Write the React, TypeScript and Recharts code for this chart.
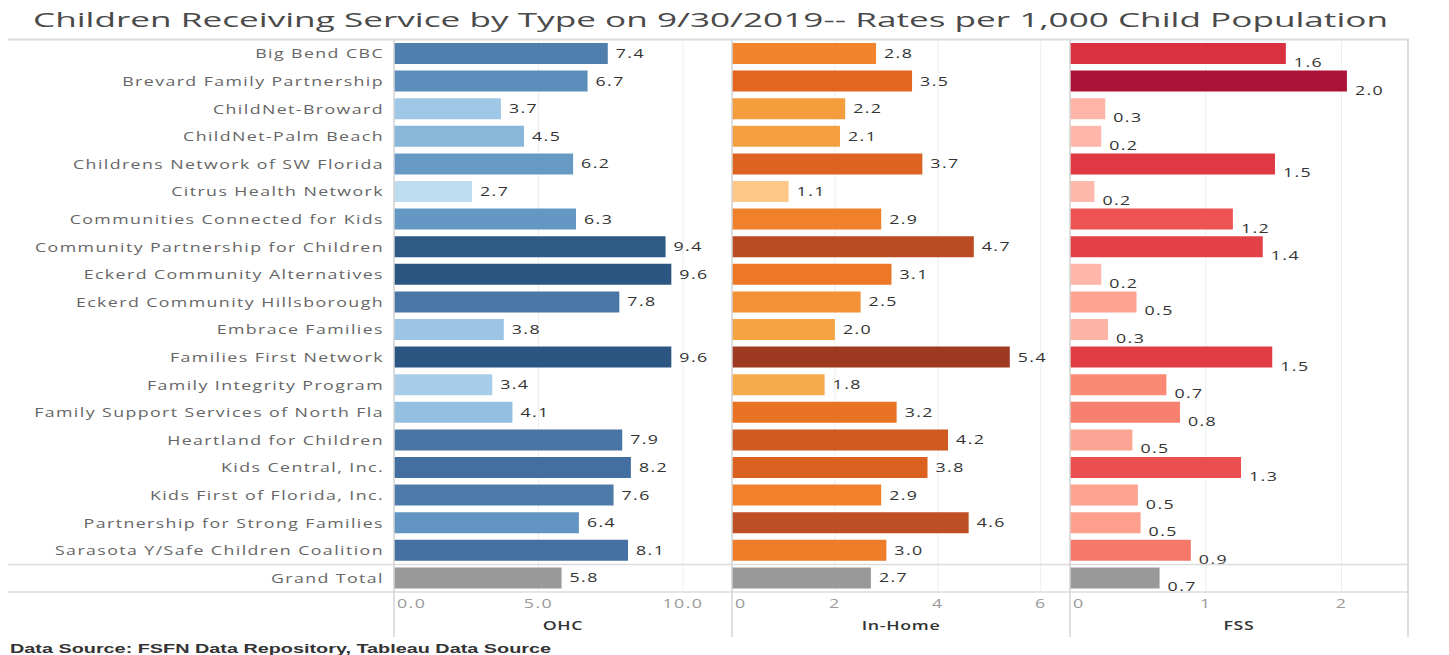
import React from 'react';
import { BarChart, Bar, XAxis, YAxis, CartesianGrid, Cell, LabelList } from 'recharts';

const categories = [
  'Big Bend CBC',
  'Brevard Family Partnership',
  'ChildNet-Broward',
  'ChildNet-Palm Beach',
  'Childrens Network of SW Florida',
  'Citrus Health Network',
  'Communities Connected for Kids',
  'Community Partnership for Children',
  'Eckerd Community Alternatives',
  'Eckerd Community Hillsborough',
  'Embrace Families',
  'Families First Network',
  'Family Integrity Program',
  'Family Support Services of North Fla',
  'Heartland for Children',
  'Kids Central, Inc.',
  'Kids First of Florida, Inc.',
  'Partnership for Strong Families',
  'Sarasota Y/Safe Children Coalition',
  'Grand Total',
];

const ohcRates = [7.4, 6.7, 3.7, 4.5, 6.2, 2.7, 6.3, 9.4, 9.6, 7.8, 3.8, 9.6, 3.4, 4.1, 7.9, 8.2, 7.6, 6.4, 8.1, 5.8];
const inHomeRates = [2.8, 3.5, 2.2, 2.1, 3.7, 1.1, 2.9, 4.7, 3.1, 2.5, 2.0, 5.4, 1.8, 3.2, 4.2, 3.8, 2.9, 4.6, 3.0, 2.7];
const fssRates = [1.59, 2.04, 0.26, 0.23, 1.51, 0.18, 1.2, 1.42, 0.23, 0.49, 0.28, 1.49, 0.71, 0.81, 0.46, 1.26, 0.5, 0.52, 0.89, 0.66];

const ohcTicks = [0, 5, 10];
const inHomeTicks = [0, 2, 4, 6];
const fssTicks = [0, 1, 2];

const blueStops: [number, string][] = [
  [2.7, '#bddcf0'], [3.8, '#9cc5e5'], [4.5, '#88b7da'], [6.3, '#6497c3'],
  [7.4, '#4f7fad'], [8.2, '#426f9f'], [9.6, '#2b5682'],
];
const orangeStops: [number, string][] = [
  [1.1, '#fdc788'], [1.8, '#f5aa4c'], [2.2, '#f49d3c'], [2.9, '#f0802b'],
  [3.5, '#e2661f'], [4.2, '#cf5a22'], [4.7, '#ba4b23'], [5.4, '#9d3a21'],
];
const redStops: [number, string][] = [
  [0.2, '#feb9ad'], [0.5, '#fca290'], [0.7, '#fb8b75'], [0.9, '#f6776a'],
  [1.2, '#ed5352'], [1.5, '#e03b44'], [1.6, '#d93040'], [2.04, '#ac1237'],
];
const TOTAL_COLOR = '#999999';

const hex = (c: string) => [1, 3, 5].map((i) => parseInt(c.slice(i, i + 2), 16));
const rampColor = (stops: [number, string][], v: number) => {
  if (v <= stops[0][0]) return stops[0][1];
  for (let i = 1; i < stops.length; i++) {
    if (v <= stops[i][0]) {
      const [a, ca] = stops[i - 1];
      const [b, cb] = stops[i];
      const t = (v - a) / (b - a);
      const A = hex(ca), B = hex(cb);
      return 'rgb(' + A.map((x, k) => Math.round(x + (B[k] - x) * t)).join(',') + ')';
    }
  }
  return stops[stops.length - 1][1];
};

const rows = categories.map((name, i) => ({
  name,
  ohc: ohcRates[i],
  inHome: inHomeRates[i],
  fss: fssRates[i],
}));

const FONT = '"Open Sans", sans-serif';
const SX = 1.42;
const TOP = 40;
const PLOT_H = 552;
const AXIS_H = 45;
const PANE_W = 338;

const StretchText = ({ x, y, anchor = 'start', size = 12.5, fill = '#333', weight = 400, spacing = 1, children }: any) => (
  <text
    transform={`translate(${x},${y}) scale(${SX},1)`}
    textAnchor={anchor}
    fontFamily={FONT}
    fontSize={size}
    fontWeight={weight}
    letterSpacing={spacing}
    fill={fill}
  >
    {children}
  </text>
);

const RowLabel = ({ y, payload }: any) => (
  <StretchText x={376} y={y + 4.5} anchor="end" fill="#666">
    {payload.value}
  </StretchText>
);

const makeTick = (fmt: (v: number) => string) => ({ x, y, payload }: any) => (
  <StretchText x={payload.value === 0 ? x + 3 : x} y={y + 14} anchor={payload.value === 0 ? 'start' : 'middle'} fill="#9a9a9a" size={12.5}>
    {fmt(payload.value)}
  </StretchText>
);

const makeTitle = (text: string) => (props: any) => {
  const vb = props.viewBox || {};
  return (
    <StretchText x={vb.x + vb.width / 2} y={vb.y + 38} anchor="middle" fill="#333" size={12.5} weight={600} spacing={0.5}>
      {text}
    </StretchText>
  );
};

const makeValueLabel = (dy: number) => (p: any) => (
  <StretchText x={p.x + p.width + 8} y={p.y + p.height / 2 + 4.5 + dy} fill="#333" size={12.5}>
    {Number(p.value).toFixed(1)}
  </StretchText>
);

const Pane = ({ dataKey, max, ticks, stops, fmt, title, labelDy, withLabels }: any) => (
  <BarChart
    width={withLabels ? 386 + PANE_W : PANE_W}
    height={PLOT_H + AXIS_H}
    data={rows}
    layout="vertical"
    margin={{ top: 0, right: 0, bottom: 0, left: 0 }}
    barSize={21}
  >
    <CartesianGrid horizontal={false} stroke="#eeeeee" />
    <XAxis
      type="number"
      domain={[0, max]}
      ticks={ticks}
      interval={0}
      axisLine={false}
      tickLine={false}
      tickSize={0}
      height={AXIS_H}
      tick={makeTick(fmt)}
      label={makeTitle(title)}
    />
    <YAxis
      type="category"
      dataKey="name"
      hide={!withLabels}
      width={withLabels ? 386 : 0}
      axisLine={false}
      tickLine={false}
      interval={0}
      tick={<RowLabel />}
    />
    <Bar dataKey={dataKey} isAnimationActive={false}>
      {rows.map((r, i) => (
        <Cell key={i} fill={r.name === 'Grand Total' ? TOTAL_COLOR : rampColor(stops, r[dataKey as 'ohc'])} />
      ))}
      <LabelList dataKey={dataKey} content={makeValueLabel(labelDy)} />
    </Bar>
  </BarChart>
);

export default function App() {
  const rowH = PLOT_H / categories.length;
  return (
    <div style={{ position: 'absolute', left: 0, top: 0, width: 1449, height: 655, background: '#fff', overflow: 'hidden' }}>
      <div style={{ position: 'absolute', left: 8, top: TOP }}>
        <Pane dataKey="ohc" max={11.7} ticks={ohcTicks} stops={blueStops} fmt={(v: number) => v.toFixed(1)} title="OHC" labelDy={0} withLabels />
      </div>
      <div style={{ position: 'absolute', left: 732, top: TOP }}>
        <Pane dataKey="inHome" max={6.57} ticks={inHomeTicks} stops={orangeStops} fmt={(v: number) => String(v)} title="In-Home" labelDy={0} />
      </div>
      <div style={{ position: 'absolute', left: 1070, top: TOP }}>
        <Pane dataKey="fss" max={2.49} ticks={fssTicks} stops={redStops} fmt={(v: number) => String(v)} title="FSS" labelDy={9} />
      </div>
      <svg width={1449} height={655} style={{ position: 'absolute', left: 0, top: 0, pointerEvents: 'none' }}>
        <text x={33} y={27} textLength={1355} lengthAdjust="spacingAndGlyphs" fontFamily={FONT} fontSize={20.5} fill="#4a4a4a">
          Children Receiving Service by Type on 9/30/2019-- Rates per 1,000 Child Population
        </text>
        <line x1={8} x2={1409} y1={39.5} y2={39.5} stroke="#dcdcdc" strokeWidth={2} />
        <line x1={8} x2={1409} y1={TOP + rowH * 19} y2={TOP + rowH * 19} stroke="#dcdcdc" strokeWidth={1.5} />
        <line x1={8} x2={1409} y1={TOP + PLOT_H} y2={TOP + PLOT_H} stroke="#dcdcdc" strokeWidth={1.5} />
        {[394, 732, 1070, 1408].map((x) => (
          <line key={x} x1={x} x2={x} y1={39} y2={637} stroke="#d4d4d4" strokeWidth={1.5} />
        ))}
        <text x={10} y={653} textLength={541} lengthAdjust="spacingAndGlyphs" fontFamily='"Liberation Sans", Arial, sans-serif' fontWeight={700} fontSize={13} fill="#333">
          Data Source: FSFN Data Repository, Tableau Data Source
        </text>
      </svg>
    </div>
  );
}
